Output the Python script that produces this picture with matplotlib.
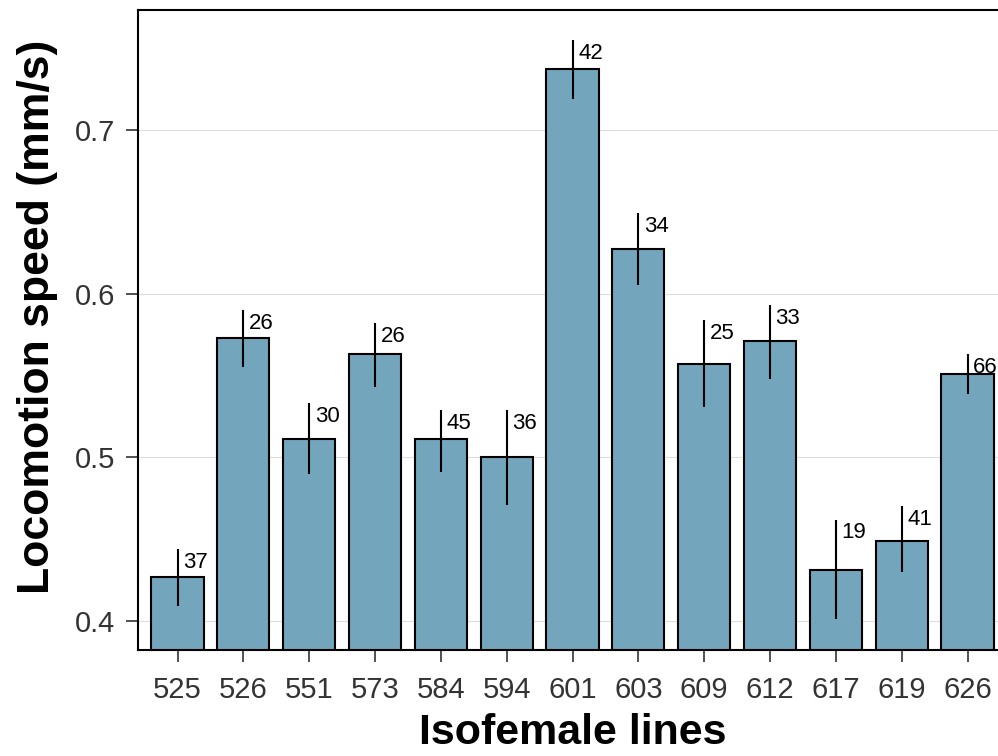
import matplotlib.pyplot as plt

# Isofemale lines, mean locomotion speed, error bar bounds, n
lines = ['525', '526', '551', '573', '584', '594', '601', '603', '609', '612', '617', '619', '626']
speed = [0.427, 0.573, 0.511, 0.563, 0.511, 0.500, 0.737, 0.627, 0.557, 0.571, 0.431, 0.449, 0.551]
err_hi = [0.444, 0.590, 0.533, 0.582, 0.529, 0.529, 0.755, 0.649, 0.584, 0.593, 0.462, 0.470, 0.563]
err_lo = [0.409, 0.555, 0.490, 0.543, 0.491, 0.471, 0.719, 0.605, 0.531, 0.548, 0.401, 0.430, 0.539]
counts = [37, 26, 30, 26, 45, 36, 42, 34, 25, 33, 19, 41, 66]

plt.rcParams['font.family'] = ['Liberation Sans', 'DejaVu Sans']

fig = plt.figure(figsize=(9.98, 7.56), dpi=100)
ax = fig.add_axes([138 / 998, 106 / 756, 869 / 998, 640 / 756])

x = list(range(len(lines)))
ax.bar(x, speed, width=0.79, color='#73a6bd', edgecolor='black', linewidth=1.5, zorder=2)
ax.vlines(x, err_lo, err_hi, color='black', linewidth=1.5, zorder=3)

for xi, hi, n in zip(x, err_hi, counts):
    ax.annotate(str(n), (xi, hi), xytext=(4, -2), textcoords='offset points',
                ha='left', va='top', fontsize=16, zorder=4)

ax.set_xlim(-0.6, 12.6)
ax.set_ylim(0.3823, 0.7733)
ax.set_yticks([0.4, 0.5, 0.6, 0.7])
ax.set_yticklabels(['0.4', '0.5', '0.6', '0.7'])
ax.set_xticks(x)
ax.set_xticklabels(lines)

ax.yaxis.grid(True, color='#dddddd', linewidth=0.8, zorder=0)
ax.set_axisbelow(True)

for s in ['left', 'bottom', 'top']:
    ax.spines[s].set_linewidth(1.5)
    ax.spines[s].set_color('black')
ax.spines['right'].set_visible(False)

ax.tick_params(axis='both', direction='out', length=8.5, width=1.2, color='#333333',
               labelsize=21, labelcolor='#333333')
ax.tick_params(axis='x', pad=10)
ax.tick_params(axis='y', pad=8)

ax.set_xlabel('Isofemale lines', fontsize=31, fontweight='bold', labelpad=7)
ax.set_ylabel('Locomotion speed (mm/s)', fontsize=32, fontweight='bold')
ax.yaxis.set_label_coords(-0.092, 0.52)

fig.savefig('out.png', dpi=100)
